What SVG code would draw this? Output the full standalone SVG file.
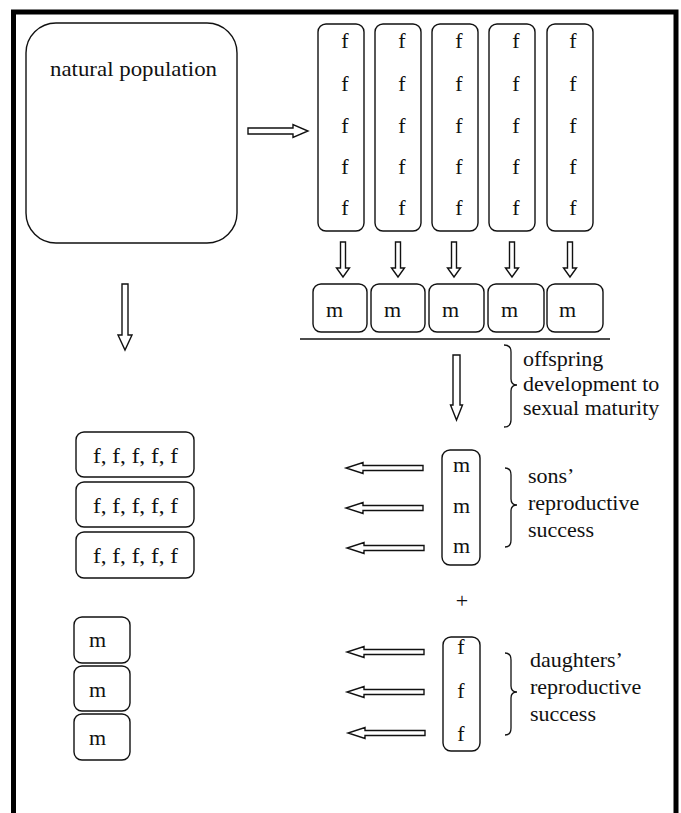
<svg xmlns="http://www.w3.org/2000/svg" xmlns:xlink="http://www.w3.org/1999/xlink" width="681" height="813" viewBox="0 0 681 813">
<style>
  .box { fill: #fff; stroke: #111; stroke-width: 1.4; }
  .arr { fill: #fff; stroke: #111; stroke-width: 1.4; stroke-linejoin: miter; }
  .brace { fill: none; stroke: #111; stroke-width: 1.3; }
  text { font-family: 'Liberation Serif', 'DejaVu Serif', serif; font-size: 22px; fill: #111; }
  .c { text-anchor: middle; }
</style>
<defs>
  <path id="adown" class="arr" d="M-2.5 0 V26 H-6.5 L0 35 L6.5 26 H2.5 V0 Z"/>
  <path id="aleft" class="arr" d="M0 -2.5 H-60 V-5.5 L-77 0 L-60 5.5 V2.5 H0 Z"/>
</defs>
<rect width="681" height="813" fill="#fff"/>
<path d="M13.5 813 V12 H676 V813" fill="none" stroke="#000" stroke-width="5"/>

<g id="natural-population">
  <rect class="box" x="26" y="23" width="211" height="220" rx="30"/>
  <text x="50" y="76" textLength="167" lengthAdjust="spacingAndGlyphs">natural population</text>
</g>

<g id="col1"><rect class="box" x="318" y="24" width="46" height="207" rx="8"/>
  <text class="c" x="345" y="48">f</text><text class="c" x="345" y="91">f</text><text class="c" x="345" y="133">f</text><text class="c" x="345" y="174">f</text><text class="c" x="345" y="215">f</text></g>
<g id="col2"><rect class="box" x="375" y="24" width="46" height="207" rx="8"/>
  <text class="c" x="402" y="48">f</text><text class="c" x="402" y="91">f</text><text class="c" x="402" y="133">f</text><text class="c" x="402" y="174">f</text><text class="c" x="402" y="215">f</text></g>
<g id="col3"><rect class="box" x="432" y="24" width="46" height="207" rx="8"/>
  <text class="c" x="459" y="48">f</text><text class="c" x="459" y="91">f</text><text class="c" x="459" y="133">f</text><text class="c" x="459" y="174">f</text><text class="c" x="459" y="215">f</text></g>
<g id="col4"><rect class="box" x="489" y="24" width="46" height="207" rx="8"/>
  <text class="c" x="516" y="48">f</text><text class="c" x="516" y="91">f</text><text class="c" x="516" y="133">f</text><text class="c" x="516" y="174">f</text><text class="c" x="516" y="215">f</text></g>
<g id="col5"><rect class="box" x="547" y="24" width="46" height="207" rx="8"/>
  <text class="c" x="573" y="48">f</text><text class="c" x="573" y="91">f</text><text class="c" x="573" y="133">f</text><text class="c" x="573" y="174">f</text><text class="c" x="573" y="215">f</text></g>

<g id="m1"><rect class="box" x="313" y="284" width="54" height="48" rx="8"/><text x="326" y="317">m</text></g>
<g id="m2"><rect class="box" x="371" y="284" width="54" height="48" rx="8"/><text x="384" y="317">m</text></g>
<g id="m3"><rect class="box" x="429" y="284" width="55" height="48" rx="8"/><text x="442" y="317">m</text></g>
<g id="m4"><rect class="box" x="488" y="284" width="56" height="48" rx="8"/><text x="501" y="317">m</text></g>
<g id="m5"><rect class="box" x="547" y="284" width="56" height="48" rx="8"/><text x="559" y="317">m</text></g>

<g id="ff1"><rect class="box" x="76" y="432" width="118" height="45" rx="8"/><text x="93" y="463" textLength="85" lengthAdjust="spacingAndGlyphs">f, f, f, f, f</text></g>
<g id="ff2"><rect class="box" x="76" y="482" width="118" height="45" rx="8"/><text x="93" y="513" textLength="85" lengthAdjust="spacingAndGlyphs">f, f, f, f, f</text></g>
<g id="ff3"><rect class="box" x="76" y="532" width="118" height="46" rx="8"/><text x="93" y="563" textLength="85" lengthAdjust="spacingAndGlyphs">f, f, f, f, f</text></g>

<g id="lm1"><rect class="box" x="74" y="617" width="56" height="46" rx="8"/><text x="89" y="647">m</text></g>
<g id="lm2"><rect class="box" x="74" y="666" width="56" height="45" rx="8"/><text x="89" y="697">m</text></g>
<g id="lm3"><rect class="box" x="74" y="714" width="56" height="46" rx="8"/><text x="89" y="745">m</text></g>

<g id="sons">
  <rect class="box" x="442" y="450" width="38" height="115" rx="8"/>
  <text class="c" x="461.5" y="472">m</text><text class="c" x="461.5" y="513">m</text><text class="c" x="461.5" y="553">m</text>
</g>
<g id="plus"><text class="c" x="462" y="608">+</text></g>
<g id="daughters">
  <rect class="box" x="443" y="637" width="37" height="114" rx="8"/>
  <text class="c" x="461" y="654">f</text><text class="c" x="461" y="698">f</text><text class="c" x="461" y="741">f</text>
</g>

<g id="label-offspring">
  <path class="brace" d="M504 345 Q511 345 511 352 V379 Q511 385 517 385 Q511 385 511 391 V420 Q511 427 504 427"/>
  <text x="523" y="366">offspring</text>
  <text x="523" y="391">development to</text>
  <text x="523" y="415">sexual maturity</text>
</g>
<g id="label-sons">
  <path class="brace" d="M505 468 Q511 468 511 475 V499 Q511 505 517 505 Q511 505 511 511 V540 Q511 547 505 547"/>
  <text x="528" y="483">sons’</text>
  <text x="528" y="510">reproductive</text>
  <text x="528" y="537">success</text>
</g>
<g id="label-daughters">
  <path class="brace" d="M505 653 Q511 653 511 660 V686 Q511 692 517 692 Q511 692 511 698 V728 Q511 735 505 735"/>
  <text x="530" y="667">daughters’</text>
  <text x="530" y="694">reproductive</text>
  <text x="530" y="721">success</text>
</g>

<g id="connectors">
  <path class="arr" d="M248 128 H293 V124.5 L308 131 L293 137.5 V134 H248 Z"/>
  <use xlink:href="#adown" x="343" y="242"/>
  <use xlink:href="#adown" x="398" y="242"/>
  <use xlink:href="#adown" x="454" y="242"/>
  <use xlink:href="#adown" x="512" y="242"/>
  <use xlink:href="#adown" x="570" y="242"/>
  <line x1="300" y1="339" x2="610" y2="339" stroke="#111" stroke-width="1.5"/>
  <path class="arr" d="M453 355 V405 H450.5 L456.5 420 L462.5 405 H460 V355 Z"/>
  <path class="arr" d="M122 284 V335 H118 L125 350 L132 335 H128 V284 Z"/>
  <use xlink:href="#aleft" x="423" y="468"/>
  <use xlink:href="#aleft" x="423" y="508"/>
  <use xlink:href="#aleft" x="424" y="548"/>
  <use xlink:href="#aleft" x="424" y="652"/>
  <use xlink:href="#aleft" x="424" y="692"/>
  <use xlink:href="#aleft" x="425" y="733"/>
</g>
</svg>
